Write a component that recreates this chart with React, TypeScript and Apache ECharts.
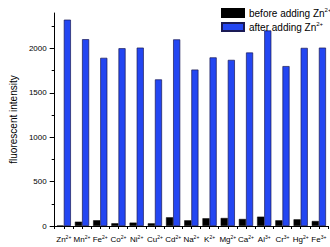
import React, { useEffect, useRef } from "react";
import * as echarts from "echarts";

const elements = ["Zn", "Mn", "Fe", "Co", "Ni", "Cu", "Cd", "Na", "K", "Mg", "Ca", "Al", "Cr", "Hg", "Fe"];
const charges = ["2+", "2+", "2+", "2+", "2+", "2+", "2+", "2+", "2+", "2+", "2+", "3+", "3+", "2+", "3+"];
const categories = elements.map((e, i) => e + charges[i]);
const beforeValues = [5, 49, 64, 30, 38, 30, 98, 64, 87, 90, 79, 105, 64, 75, 56];
const afterValues = [2325, 2105, 1895, 2003, 2010, 1652, 2103, 1763, 1900, 1872, 1955, 2203, 1802, 2007, 2010];
const majorTicks = [0, 500, 1000, 1500, 2000];
const minorTicks = [0, 250, 500, 750, 1000, 1250, 1500, 1750, 2000, 2250];
const seriesNames = ["before adding Zn2+", "after adding Zn2+"];

const FONT = "Liberation Sans, Arial, sans-serif";

export default function App() {
  const ref = useRef<HTMLDivElement>(null);
  useEffect(() => {
    const chart = echarts.init(ref.current!, null, { renderer: "svg" });
    const labelFmt = (v: string) => {
      const i = categories.indexOf(v);
      return `{b|${elements[i]}}{sup|${charges[i]}}`;
    };
    chart.setOption({
      animation: false,
      textStyle: { fontFamily: FONT },
      grid: { left: 42, right: 2, top: 13, bottom: 21, containLabel: false },
      legend: {
        orient: "vertical",
        left: 216,
        top: 2,
        itemWidth: 22,
        itemHeight: 8,
        itemGap: 3,
        icon: "rect",
        data: seriesNames,
        formatter: (name: string) => name.replace("Zn2+", "Zn{sup|2+}"),
        textStyle: {
          fontFamily: FONT,
          fontSize: 10,
          color: "#000",
          rich: {
            sup: { fontSize: 6, verticalAlign: "top", padding: [0, 0, 6, 0], fontFamily: FONT, color: "#000" },
          },
        },
      },
      xAxis: [
        {
          type: "category",
          data: categories,
          position: "bottom",
          axisLine: { lineStyle: { color: "#000", width: 1 } },
          axisTick: { show: true, length: 3, interval: 0, lineStyle: { color: "#000" } },
          axisLabel: {
            interval: 0,
            margin: 8,
            formatter: labelFmt,
            rich: {
              b: { fontSize: 8, fontFamily: FONT, color: "#000" },
              sup: { fontSize: 5, fontFamily: FONT, color: "#000", padding: [0, 0, 5, 0] },
            },
          },
          splitLine: { show: false },
        },
        {
          type: "category",
          data: categories,
          position: "bottom",
          axisLine: { show: false },
          axisTick: { show: true, length: 3, alignWithLabel: true, interval: 0, lineStyle: { color: "#000" } },
          axisLabel: { show: false },
          splitLine: { show: false },
        },
      ],
      yAxis: [
        {
          type: "value",
          min: 0,
          max: 2400,
          interval: 500,
          name: "fluorescent intensity",
          nameLocation: "middle",
          nameGap: 34,
          nameTextStyle: { fontSize: 10, fontFamily: FONT, color: "#000" },
          axisLine: { show: true, lineStyle: { color: "#000", width: 1 } },
          axisTick: { show: true, length: 5, customValues: majorTicks, lineStyle: { color: "#000" } },
          axisLabel: {
            fontSize: 8,
            color: "#000",
            margin: 8,
            customValues: majorTicks,
            fontFamily: FONT,
            formatter: (v: number) => String(v),
          },
          splitLine: { show: false },
        },
        {
          type: "value",
          min: 0,
          max: 2400,
          position: "left",
          offset: 0,
          axisLine: { show: false },
          axisTick: { show: true, length: 3, customValues: minorTicks, lineStyle: { color: "#000" } },
          axisLabel: { show: false },
          splitLine: { show: false },
        },
      ],
      series: [
        {
          name: seriesNames[0],
          type: "bar",
          data: beforeValues,
          barWidth: "39%",
          barGap: "0%",
          itemStyle: { color: "#000", borderColor: "#000", borderWidth: 0.5 },
        },
        {
          name: seriesNames[1],
          type: "bar",
          data: afterValues,
          barWidth: "39%",
          barGap: "0%",
          itemStyle: { color: "#2346f2", borderColor: "#1a1a55", borderWidth: 0.7 },
        },
      ],
    });
    return () => chart.dispose();
  }, []);
  return <div ref={ref} style={{ width: 330, height: 247, position: "absolute", left: 0, top: 0 }} />;
}
